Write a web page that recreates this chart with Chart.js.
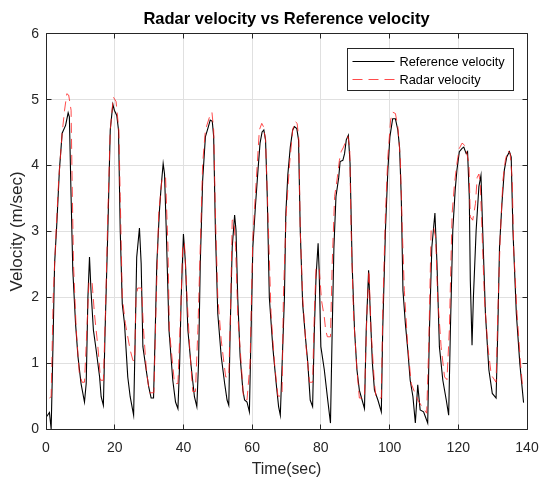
<!DOCTYPE html>
<html lang="en">
<head>
<meta charset="UTF-8">
<title>Radar velocity vs Reference velocity</title>
<script src="https://cdn.jsdelivr.net/npm/chart.js"></script>
<style>
  html, body { margin: 0; padding: 0; background: #fff; }
  #wrap { width: 539px; height: 478px; }
</style>
</head>
<body>
<div id="wrap"><canvas id="velChart" width="539" height="478"></canvas></div>
<script>
// tick labels
const xTicks = [0, 20, 40, 60, 80, 100, 120, 140];
const yTicks = [0, 1, 2, 3, 4, 5, 6];

// reference velocity (black, solid)
const refTime = [0.2, 1.0, 1.5, 2.0, 2.5, 3.15, 3.9, 4.7, 5.7, 6.45, 6.8, 7.3, 7.8, 8.6, 9.3, 10.2, 11.2, 11.7, 12.2, 12.66,
  13.1, 13.8, 14.6, 15.6, 16.05, 16.7, 17.2, 18.0, 18.7, 19.45, 19.9, 20.6, 21.1, 21.6, 22.2, 22.85, 23.8, 24.5, 25.5, 26.0,
  26.4, 27.2, 27.7, 28.2, 29.15, 29.9, 30.6, 31.3, 31.8, 32.25, 33.0, 33.5, 34.1, 34.5, 35.0, 35.8, 36.9, 37.7, 38.4, 38.9,
  39.35, 40.0, 40.6, 41.3, 42.25, 43.2, 43.9, 44.4, 44.9, 45.6, 46.4, 47.1, 47.8, 48.4, 48.8, 49.3, 50.0, 51.0, 52.0, 52.7,
  53.2, 53.6, 54.2, 54.9, 55.3, 55.8, 56.5, 57.3, 57.8, 58.5, 59.2, 59.7, 60.2, 61.0, 61.7, 62.3, 62.9, 63.4, 63.9, 64.4,
  65.0, 66.0, 67.0, 67.7, 68.2, 68.8, 69.4, 69.8, 70.4, 71.1, 71.8, 72.3, 73.0, 73.5, 74.0, 74.7, 75.5, 76.2, 76.9, 77.6,
  78.1, 78.6, 79.2, 79.5, 80.0, 81.0, 82.0, 82.8, 83.3, 83.8, 84.4, 85.2, 85.6, 86.4, 86.9, 87.4, 88.0, 88.5, 89.1, 89.8,
  90.5, 91.2, 92.0, 92.7, 93.2, 93.9, 94.4, 95.0, 95.6, 96.6, 97.6, 98.0, 98.8, 99.5, 100.1, 100.9, 101.7, 102.4, 102.9, 103.4,
  103.9, 104.6, 105.3, 106.0, 106.8, 107.5, 108.2, 108.9, 109.9, 110.4, 111.1, 111.6, 112.3, 113.2, 113.8, 114.5, 115.5, 116.5, 117.2, 117.7,
  118.4, 119.1, 119.6, 120.3, 121.1, 121.6, 122.3, 122.7, 123.2, 123.5, 124.0, 124.4, 125.2, 126.0, 126.6, 127.1, 127.9, 128.9, 129.9, 131.0,
  131.5, 132.0, 132.7, 133.4, 134.1, 134.9, 135.4, 135.9, 136.9, 137.9, 139.0];
const refVel = [0.19, 0.25, 0.0, 1.2, 2.51, 3.12, 3.93, 4.49, 4.61, 4.8, 4.74, 3.53, 2.41, 1.6, 1.1, 0.69, 0.41, 0.69, 2.0, 2.61,
  2.1, 1.5, 1.2, 0.79, 0.49, 0.36, 1.5, 3.02, 4.54, 4.93, 4.84, 4.76, 4.54, 3.02, 1.9, 1.6, 0.79, 0.49, 0.21, 1.5,
  2.61, 3.05, 2.51, 1.25, 0.9, 0.64, 0.47, 0.47, 1.5, 2.51, 3.3, 3.67, 4.03, 3.87, 3.02, 1.5, 0.74, 0.41, 0.31, 1.0,
  2.0, 2.96, 2.51, 1.5, 0.95, 0.49, 0.34, 1.0, 2.51, 3.78, 4.44, 4.56, 4.69, 4.67, 4.44, 3.02, 1.75, 1.1, 0.69, 0.44,
  0.36, 1.5, 2.76, 3.25, 3.02, 2.0, 1.1, 0.59, 0.44, 0.41, 0.26, 1.5, 2.76, 3.42, 3.93, 4.34, 4.51, 4.54, 4.39, 3.53,
  2.0, 1.25, 0.69, 0.34, 0.21, 1.1, 2.0, 3.27, 3.87, 4.28, 4.54, 4.59, 4.56, 4.39, 3.02, 1.9, 1.4, 1.0, 0.44, 0.34,
  1.5, 2.31, 2.82, 2.41, 1.25, 0.9, 0.44, 0.09, 1.5, 2.76, 3.53, 3.82, 4.06, 4.08, 4.18, 4.39, 4.46, 4.03, 2.51, 1.5,
  0.9, 0.59, 0.44, 0.31, 1.5, 2.41, 1.75, 1.0, 0.59, 0.44, 0.26, 1.5, 3.02, 3.93, 4.44, 4.71, 4.71, 4.54, 4.28, 3.53,
  2.1, 1.6, 1.2, 0.74, 0.49, 0.09, 0.67, 0.29, 0.26, 0.19, 0.09, 1.5, 2.76, 3.28, 2.51, 1.25, 0.74, 0.44, 0.21, 1.5,
  3.02, 3.63, 3.93, 4.21, 4.26, 4.28, 4.18, 4.21, 3.53, 2.26, 1.27, 2.0, 3.02, 3.68, 3.85, 3.02, 1.75, 0.9, 0.54, 0.47,
  1.5, 2.76, 3.42, 3.93, 4.13, 4.21, 4.13, 3.02, 1.75, 1.0, 0.4];

// radar velocity (red, dashed)
const radarTime = [1.0, 1.5, 2.1, 2.95, 3.7, 4.7, 5.4, 6.06, 6.6, 7.3, 7.6, 8.0, 8.8, 9.7, 10.5, 11.2, 11.9, 12.5, 13.4, 14.1,
  15.1, 15.9, 16.7, 17.3, 18.0, 18.7, 19.6, 20.4, 21.2, 21.6, 22.2, 23.1, 23.8, 24.5, 25.3, 25.8, 26.2, 26.7, 27.8, 28.4,
  29.2, 30.1, 31.4, 32.1, 32.8, 33.8, 34.8, 35.5, 35.9, 37.4, 38.4, 39.35, 39.8, 40.3, 40.8, 41.8, 42.7, 43.5, 44.2, 44.9,
  45.6, 46.4, 47.6, 48.3, 48.8, 49.3, 50.0, 51.0, 51.8, 52.3, 53.2, 53.7, 54.2, 54.7, 55.2, 55.8, 56.8, 57.5, 58.5, 59.4,
  60.2, 61.2, 62.1, 62.8, 63.3, 63.9, 64.6, 65.5, 66.5, 67.5, 68.7, 69.1, 69.9, 70.9, 71.8, 72.5, 73.1, 73.6, 74.0, 74.7,
  75.7, 76.7, 77.6, 78.1, 78.6, 79.5, 80.2, 81.0, 81.4, 81.9, 82.8, 83.3, 84.0, 84.7, 85.4, 85.9, 86.6, 87.4, 87.9, 88.4,
  88.8, 89.5, 90.5, 91.2, 92.7, 93.4, 94.0, 94.6, 95.6, 96.1, 97.6, 98.0, 98.8, 99.5, 100.3, 100.9, 101.7, 102.4, 103.1, 103.7,
  104.3, 105.3, 106.3, 107.2, 108.2, 109.2, 110.2, 110.8, 111.4, 112.1, 112.8, 113.4, 114.0, 115.0, 116.0, 116.7, 117.4, 118.2, 118.9, 119.6,
  120.3, 121.1, 121.8, 122.5, 123.1, 123.5, 124.2, 125.0, 125.5, 126.0, 126.4, 126.9, 127.6, 128.6, 129.6, 131.0, 131.5, 132.2, 133.0, 133.7,
  134.4, 135.1, 135.7, 136.1, 137.1, 138.1, 138.8];
const radarVel = [0.47, 0.49, 2.0, 3.02, 3.78, 4.49, 4.84, 5.09, 5.07, 4.84, 3.78, 2.51, 1.5, 0.84, 0.71, 0.71, 1.5, 2.24, 2.24, 1.75,
  1.25, 0.74, 0.74, 1.75, 3.27, 4.54, 5.04, 4.97, 4.54, 3.53, 2.0, 1.6, 1.4, 1.2, 1.04, 1.04, 2.0, 2.14, 2.14, 1.5,
  0.9, 0.55, 0.55, 2.0, 3.27, 3.82, 3.82, 2.76, 1.5, 0.69, 0.69, 2.0, 2.82, 2.82, 2.26, 1.25, 0.57, 0.57, 1.5, 2.76,
  4.03, 4.54, 4.74, 4.81, 4.54, 3.27, 2.0, 1.35, 1.0, 0.79, 0.79, 1.75, 3.17, 3.17, 2.76, 1.75, 1.0, 0.47, 0.44, 1.0,
  2.91, 3.78, 4.54, 4.64, 4.59, 4.39, 3.27, 1.75, 1.0, 0.5, 0.5, 2.0, 3.27, 4.03, 4.54, 4.67, 4.64, 4.39, 3.02, 2.0,
  1.25, 0.71, 0.71, 1.75, 2.45, 2.45, 1.95, 1.7, 1.5, 1.4, 1.4, 2.51, 3.53, 3.78, 4.08, 4.21, 4.28, 4.39, 4.44, 4.28,
  3.02, 1.75, 0.9, 0.47, 0.47, 1.75, 2.41, 1.5, 0.69, 0.47, 0.47, 1.75, 3.27, 4.13, 4.69, 4.81, 4.79, 4.59, 4.13, 3.02,
  2.1, 1.25, 0.69, 0.57, 0.44, 0.36, 0.29, 0.24, 1.25, 3.02, 3.07, 2.91, 2.0, 1.25, 0.79, 0.75, 1.5, 3.27, 3.73, 4.03,
  4.26, 4.34, 4.31, 4.18, 4.03, 3.22, 3.17, 3.42, 3.82, 3.87, 3.73, 3.02, 2.0, 1.25, 0.82, 0.71, 1.75, 2.91, 3.78, 4.08,
  4.23, 4.18, 3.78, 2.76, 1.75, 1.0, 0.59];

const axisColor = '#262626';
const gridColor = '#e0e0e0';
const font = "'Liberation Sans', Arial, Helvetica, sans-serif";

function toPoints(xs, ys) {
  return xs.map((t, i) => ({ x: t, y: ys[i] }));
}

function align(p) {
  return Math.round(p - 0.5) + 0.5;
}

// axes box, inward ticks (MATLAB style) and the boxed legend
const frame = {
  id: 'frame',
  afterDraw(chart) {
    const { ctx, chartArea: a, scales: { x, y } } = chart;
    const L = align(a.left), R = align(a.right), T = align(a.top), B = align(a.bottom);
    const tl = 5;
    ctx.save();
    ctx.strokeStyle = axisColor;
    ctx.lineWidth = 1;
    ctx.beginPath();
    ctx.rect(L, T, R - L, B - T);
    x.ticks.forEach(t => {
      const px = align(x.getPixelForValue(t.value));
      ctx.moveTo(px, B); ctx.lineTo(px, B - tl);
      ctx.moveTo(px, T); ctx.lineTo(px, T + tl);
    });
    y.ticks.forEach(t => {
      const py = align(y.getPixelForValue(t.value));
      ctx.moveTo(L, py); ctx.lineTo(L + tl, py);
      ctx.moveTo(R, py); ctx.lineTo(R - tl, py);
    });
    ctx.stroke();

    // legend
    const boxR = R - 14, boxT = T + 15, boxW = 166, boxH = 42;
    const boxL = boxR - boxW;
    ctx.fillStyle = '#fff';
    ctx.fillRect(boxL, boxT, boxW, boxH);
    ctx.strokeRect(boxL, boxT, boxW, boxH);
    ctx.font = '12.8px ' + font;
    ctx.textBaseline = 'middle';
    ctx.textAlign = 'left';
    chart.data.datasets.forEach((ds, i) => {
      const ly = Math.round(boxT + 12 + i * 18) + 0.5;
      ctx.beginPath();
      ctx.strokeStyle = ds.borderColor;
      ctx.lineWidth = ds.borderWidth;
      ctx.setLineDash(ds.borderDash || []);
      ctx.moveTo(boxL + 5, ly);
      ctx.lineTo(boxL + 47, ly);
      ctx.stroke();
      ctx.setLineDash([]);
      ctx.fillStyle = '#000';
      ctx.fillText(ds.label, boxL + 52, ly + 1);
    });
    ctx.restore();
  }
};

const ctx = document.getElementById('velChart').getContext('2d');
const velChart = new Chart(ctx, {
  type: 'line',
  data: {
    datasets: [
      {
        label: 'Reference velocity',
        data: toPoints(refTime, refVel),
        borderColor: '#000000',
        borderWidth: 1.1,
        pointRadius: 0,
        tension: 0,
        order: 1
      },
      {
        label: 'Radar velocity',
        data: toPoints(radarTime, radarVel),
        borderColor: 'rgba(255, 30, 30, 0.8)',
        borderWidth: 1,
        borderDash: [10, 6],
        pointRadius: 0,
        tension: 0,
        order: 0
      }
    ]
  },
  options: {
    responsive: false,
    animation: false,
    events: [],
    layout: { padding: { left: 0, right: 12, top: 0, bottom: 0 } },
    plugins: {
      legend: { display: false },
      tooltip: { enabled: false },
      title: {
        display: true,
        fullSize: false,
        text: 'Radar velocity vs Reference velocity',
        color: '#000',
        font: { family: font, size: 16.5, weight: 'bold' },
        padding: { top: 10, bottom: 4 }
      }
    },
    scales: {
      x: {
        type: 'linear',
        min: xTicks[0],
        max: xTicks[xTicks.length - 1],
        afterBuildTicks: s => { s.ticks = xTicks.map(v => ({ value: v })); },
        afterFit: s => { s.height = 49; s.paddingLeft = 0; s.paddingRight = 0; },
        grid: { color: gridColor, drawTicks: false },
        border: { display: false },
        ticks: { color: axisColor, font: { family: font, size: 14 }, padding: 11, maxRotation: 0 },
        title: {
          display: true,
          text: 'Time(sec)',
          color: axisColor,
          font: { family: font, size: 15.8, lineHeight: 1.1 },
          padding: { top: 0, bottom: 0 }
        }
      },
      y: {
        type: 'linear',
        min: yTicks[0],
        max: yTicks[yTicks.length - 1],
        afterBuildTicks: s => { s.ticks = yTicks.map(v => ({ value: v })); },
        afterFit: s => { s.width = 46; },
        grid: { color: gridColor, drawTicks: false },
        border: { display: false },
        ticks: { color: axisColor, font: { family: font, size: 14 }, padding: 7 },
        title: {
          display: true,
          text: 'Velocity (m/sec)',
          color: axisColor,
          font: { family: font, size: 17 },
          padding: { top: 7.3, bottom: 0 }
        }
      }
    }
  },
  plugins: [frame]
});
</script>
</body>
</html>
